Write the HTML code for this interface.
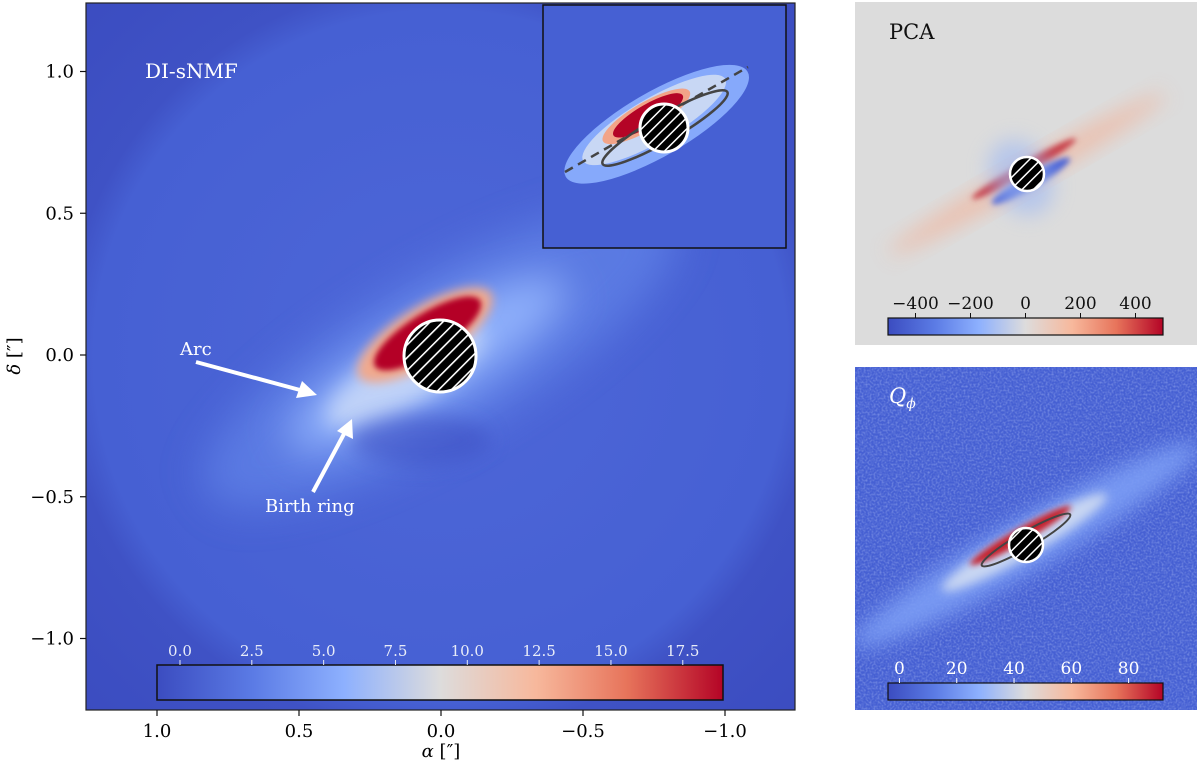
<!DOCTYPE html>
<html><head><meta charset="utf-8"><style>
html,body{margin:0;padding:0;background:#fff;}
svg{display:block;font-family:"DejaVu Serif","Liberation Serif",serif;}
</style></head><body>
<svg id="fig" width="1200" height="765" viewBox="0 0 1200 765">
<defs>
<linearGradient id="cw" x1="0" x2="1" y1="0" y2="0">
<stop offset="0" stop-color="#3b4cc0"/><stop offset="0.17" stop-color="#5b7be5"/><stop offset="0.33" stop-color="#8db0fe"/><stop offset="0.5" stop-color="#dddcdc"/><stop offset="0.67" stop-color="#f7b89c"/><stop offset="0.83" stop-color="#e7745b"/><stop offset="1" stop-color="#b40426"/>
</linearGradient>
<radialGradient id="mainbg" cx="0.5" cy="0.5" r="0.72">
<stop offset="0" stop-color="#4e67d8"/><stop offset="0.68" stop-color="#4660d3"/><stop offset="0.74" stop-color="#3f52c5"/><stop offset="1" stop-color="#3b4cc0"/>
</radialGradient>
<pattern id="hatch" patternUnits="userSpaceOnUse" width="9" height="9" patternTransform="rotate(-45)">
<rect width="9" height="9" fill="#000"/><rect x="0" y="0" width="9" height="1.6" fill="#fff"/>
</pattern>
<pattern id="hatchs" patternUnits="userSpaceOnUse" width="8" height="8" patternTransform="rotate(-45)">
<rect width="8" height="8" fill="#000"/><rect x="0" y="0" width="8" height="1.5" fill="#fff"/>
</pattern>
<filter id="b20" x="-50%" y="-50%" width="200%" height="200%"><feGaussianBlur stdDeviation="20"/></filter>
<filter id="b10" x="-50%" y="-50%" width="200%" height="200%"><feGaussianBlur stdDeviation="10"/></filter>
<filter id="b5" x="-50%" y="-50%" width="200%" height="200%"><feGaussianBlur stdDeviation="5"/></filter>
<filter id="b3" x="-50%" y="-50%" width="200%" height="200%"><feGaussianBlur stdDeviation="3"/></filter>
<filter id="noise"><feTurbulence type="fractalNoise" baseFrequency="0.5" numOctaves="1" seed="3"/><feColorMatrix values="0 0 0 0 0.5  0 0 0 0 0.6  0 0 0 0 0.95  0 0 0 1.4 -0.55"/></filter>
<clipPath id="cmain"><rect x="86" y="3" width="709" height="707"/></clipPath>
<clipPath id="cpca"><rect x="855" y="2" width="342" height="343"/></clipPath>
<clipPath id="cq"><rect x="855" y="367" width="342" height="343"/></clipPath>
<clipPath id="cins"><rect x="543" y="5" width="243" height="243"/></clipPath>
</defs>

<!-- MAIN PANEL -->
<g clip-path="url(#cmain)">
<rect x="86" y="3" width="709" height="707" fill="url(#mainbg)"/>
<g transform="rotate(-30 440 356)">
<ellipse cx="440" cy="356" rx="270" ry="80" fill="#5f80e6" filter="url(#b20)" opacity="0.8"/>
<ellipse cx="425" cy="356" rx="160" ry="40" fill="#8fb0fb" filter="url(#b20)"/>
<ellipse cx="400" cy="356" rx="90" ry="28" fill="#bfd2f8" filter="url(#b10)"/>
</g>
<ellipse cx="420" cy="440" rx="70" ry="25" fill="#3b4cc0" filter="url(#b10)" opacity="0.5"/>
<g transform="rotate(-32 425 335)">
<ellipse cx="425" cy="335" rx="78" ry="28" fill="#f0a98e" filter="url(#b5)"/>
<ellipse cx="428" cy="335" rx="62" ry="20" fill="#b40426" filter="url(#b3)"/>
</g>
</g>
<circle cx="440" cy="356" r="36" fill="url(#hatch)" stroke="#fff" stroke-width="3"/>
<rect x="86" y="3" width="709" height="707" fill="none" stroke="#222" stroke-width="1.2"/>
<text x="145" y="78" fill="#fff" font-size="20">DI-sNMF</text>

<!-- arrows -->
<g>
<text x="180" y="355" fill="#fff" font-size="18">Arc</text>
<line x1="196" y1="362" x2="300" y2="390" stroke="#fff" stroke-width="4"/>
<polygon points="317,395 296,398 302,381" fill="#fff"/>
</g>
<g>
<text x="265" y="512" fill="#fff" font-size="18">Birth ring</text>
<line x1="313" y1="492" x2="345" y2="432" stroke="#fff" stroke-width="4"/>
<polygon points="352,419 353,439 337,431" fill="#fff"/>
</g>

<!-- INSET -->
<g clip-path="url(#cins)">
<rect x="543" y="5" width="243" height="243" fill="#4660d3"/>
<g transform="rotate(-30 660 120)">
<ellipse cx="655" cy="122" rx="105" ry="32" fill="#86a9fb"/>
<ellipse cx="655" cy="117" rx="82" ry="22" fill="#c8d7f4"/>
<ellipse cx="650" cy="110" rx="50" ry="14" fill="#f2a488"/>
<ellipse cx="652" cy="110" rx="40" ry="11" fill="#b40426"/>
</g>
<ellipse cx="665" cy="128" rx="72" ry="13" fill="none" stroke="#444" stroke-width="2.5" transform="rotate(-30 665 128)"/>
<line x1="565" y1="172" x2="748" y2="67" stroke="#444" stroke-width="2.5" stroke-dasharray="9,6"/>
</g>
<circle cx="664" cy="128" r="24" fill="url(#hatchs)" stroke="#fff" stroke-width="3"/>
<rect x="543" y="5" width="243" height="243" fill="none" stroke="#111" stroke-width="1.5"/>

<!-- main colorbar -->
<rect x="157" y="665" width="566" height="35" fill="url(#cw)" stroke="#111" stroke-width="1.5"/>
<g id="mainCbTicks"></g>
<g id="axes"></g>
<text x="441" y="757" text-anchor="middle" font-size="18"><tspan font-style="italic">α</tspan> [″]</text>
<text transform="translate(20 356) rotate(-90)" text-anchor="middle" font-size="18"><tspan font-style="italic">δ</tspan> [″]</text>

<!-- PCA PANEL -->
<g clip-path="url(#cpca)">
<rect x="855" y="2" width="342" height="343" fill="#dcdcdc"/>
<g transform="rotate(-30 1027 174)">
<ellipse cx="1027" cy="174" rx="160" ry="12" fill="#f0b8a2" filter="url(#b10)" opacity="0.8"/>
<ellipse cx="1027" cy="168" rx="60" ry="6" fill="#c8404a" filter="url(#b3)"/>
<ellipse cx="1027" cy="182" rx="45" ry="7" fill="#4a62d6" filter="url(#b3)"/>
<ellipse cx="1020" cy="174" rx="30" ry="40" fill="#9db8f4" filter="url(#b10)" opacity="0.6"/>
</g>
</g>
<circle cx="1027" cy="174" r="17" fill="url(#hatchs)" stroke="#fff" stroke-width="2.5"/>
<text x="889" y="39" font-size="21" fill="#111">PCA</text>
<rect x="888" y="318" width="275" height="17" fill="url(#cw)" stroke="#111" stroke-width="1.2"/>
<g id="pcaCbTicks"></g>

<!-- Qphi PANEL -->
<g clip-path="url(#cq)">
<rect x="855" y="367" width="342" height="343" fill="#4660d3"/>
<rect x="855" y="367" width="342" height="343" filter="url(#noise)" opacity="0.6"/>
<g transform="rotate(-30 1026 545)">
<ellipse cx="1026" cy="545" rx="200" ry="26" fill="#7b9df5" filter="url(#b10)" opacity="0.9"/>
<ellipse cx="1026" cy="542" rx="95" ry="14" fill="#c8d6f2" filter="url(#b5)"/>
<ellipse cx="1026" cy="534" rx="58" ry="7" fill="#c5242f" filter="url(#b3)"/>
</g>
<ellipse cx="1026" cy="540" rx="51" ry="8" fill="none" stroke="#444" stroke-width="2" transform="rotate(-30 1026 540)"/>
</g>
<circle cx="1026" cy="545" r="17" fill="url(#hatchs)" stroke="#fff" stroke-width="2.5"/>
<text x="889" y="403" font-size="21" fill="#fff" font-style="italic">Q<tspan font-size="14" dy="5">ϕ</tspan></text>
<rect x="888" y="683" width="275" height="17" fill="url(#cw)" stroke="#111" stroke-width="1.2"/>
<g id="qCbTicks"></g>
</svg>
<script>
const xTicks = [1.0, 0.5, 0.0, -0.5, -1.0];
const yTicks = [1.0, 0.5, 0.0, -0.5, -1.0];
const mainCbTicks = [0.0, 2.5, 5.0, 7.5, 10.0, 12.5, 15.0, 17.5];
const mainCbRange = [-0.8, 18.9];
const pcaCbTicks = [-400, -200, 0, 200, 400];
const pcaCbRange = [-500, 500];
const qCbTicks = [0, 20, 40, 60, 80];
const qCbRange = [-4, 92];

const NS = 'http://www.w3.org/2000/svg';
function mk(tag, attrs, parent, txt) {
  const e = document.createElementNS(NS, tag);
  for (const k in attrs) e.setAttribute(k, attrs[k]);
  if (txt !== undefined) e.textContent = txt;
  parent.appendChild(e);
  return e;
}
function fmt(v, d) { const s = Math.abs(v).toFixed(d); return (v < 0 ? '\u2212' : '') + s; }
const xScale = v => 441 - v * 284;
const yScale = v => 355 - v * 283.5;
const axes = document.getElementById('axes');
xTicks.forEach(v => {
  const g = mk('g', {}, axes);
  
  
  const x = xScale(v);
  mk('line', {x1: x, x2: x, y1: 710, y2: 716, stroke: '#111', 'stroke-width': 1.2}, g);
  mk('text', {x: x, y: 737, 'text-anchor': 'middle', 'font-size': 18}, g, fmt(v, 1));
});
yTicks.forEach(v => {
  const g = mk('g', {}, axes);
  
  
  const y = yScale(v);
  mk('line', {x1: 80, x2: 86, y1: y, y2: y, stroke: '#111', 'stroke-width': 1.2}, g);
  mk('text', {x: 74, y: y + 6, 'text-anchor': 'end', 'font-size': 18}, g, fmt(v, 1));
});
function cbTicks(id, ticks, range, x0, x1, yTop, color, dec, fs) {
  const grp = document.getElementById(id);
  const s = v => x0 + (v - range[0]) / (range[1] - range[0]) * (x1 - x0);
  ticks.forEach(v => {
    const g = mk('g', {}, grp);
    
    
    const x = s(v);
    mk('line', {x1: x, x2: x, y1: yTop - 5, y2: yTop, stroke: color, 'stroke-width': 1}, g);
    mk('text', {x: x, y: yTop - 9, 'text-anchor': 'middle', 'font-size': fs, fill: color}, g, fmt(v, dec));
  });
}
cbTicks('mainCbTicks', mainCbTicks, mainCbRange, 157, 723, 665, '#e8ecf8', 1, 15);
cbTicks('pcaCbTicks', pcaCbTicks, pcaCbRange, 888, 1163, 318, '#111', 0, 17);
cbTicks('qCbTicks', qCbTicks, qCbRange, 888, 1163, 683, '#fff', 0, 17);
</script>
</body></html>
